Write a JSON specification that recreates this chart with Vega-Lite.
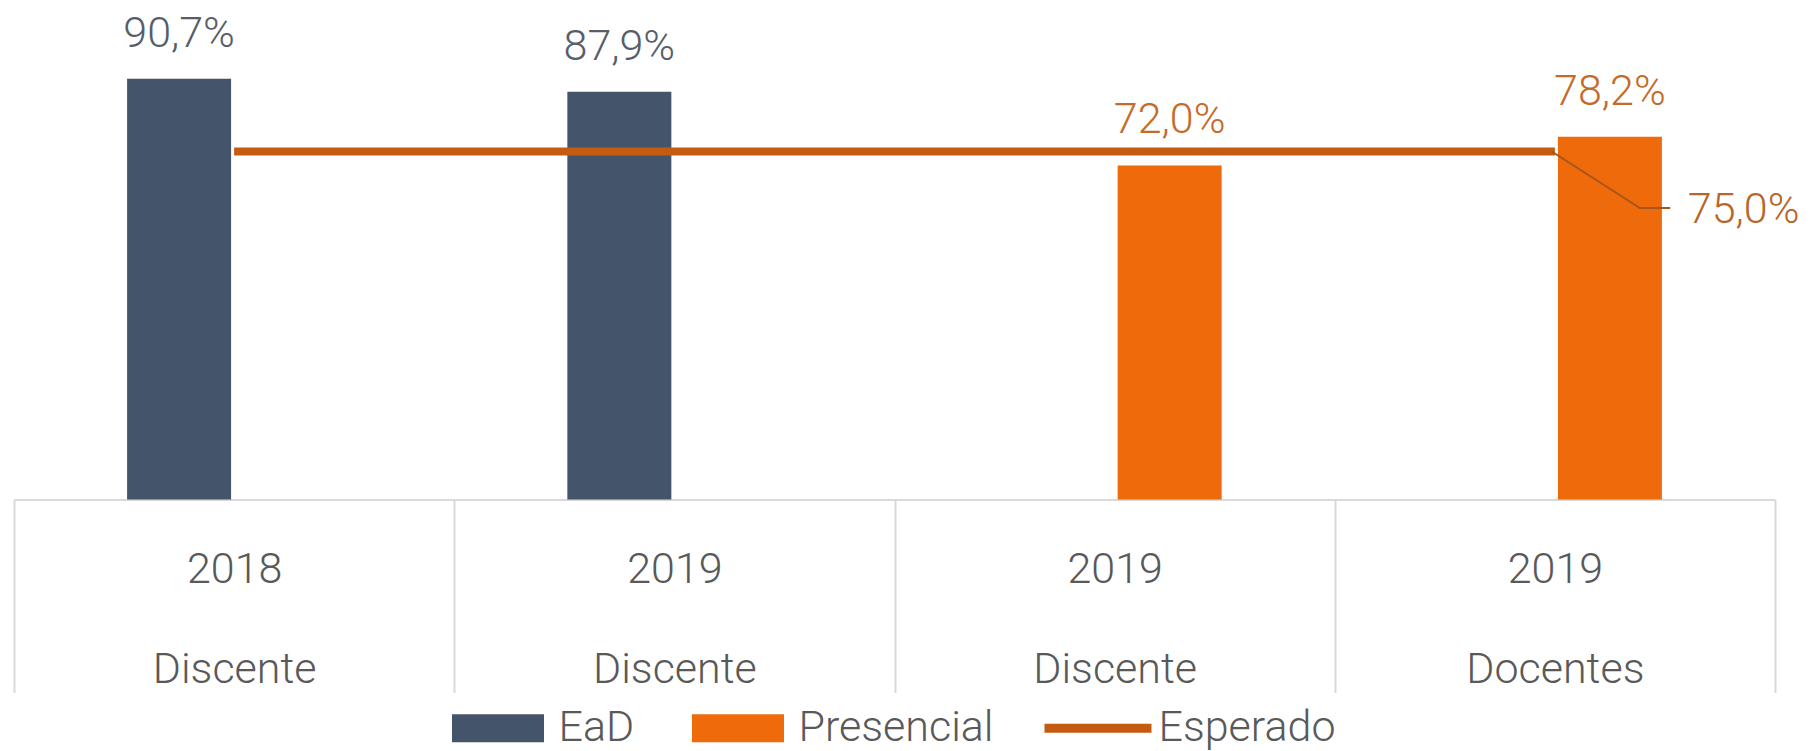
{
  "$schema": "https://vega.github.io/schema/vega-lite/v6.json",
  "autosize": {"type": "none"},
  "padding": {"left": 14, "top": 35.5, "right": 38, "bottom": 251.5},
  "width": 1761,
  "height": 464,
  "background": "white",
  "config": {
    "view": {"stroke": null},
    "font": "Roboto",
    "locale": {"number": {"decimal": ",", "thousands": ".", "grouping": [3], "currency": ["R$", ""]}}
  },
  "datasets": {
    "barras": [
      {"cat": "2018|Discente|1", "serie": "EaD", "valor": 0.907},
      {"cat": "2019|Discente|2", "serie": "EaD", "valor": 0.879},
      {"cat": "2019|Discente|3", "serie": "Presencial", "valor": 0.72},
      {"cat": "2019|Docentes|4", "serie": "Presencial", "valor": 0.782}
    ],
    "esperado": [
      {"cat": "2018|Discente|1", "valor": 0.75},
      {"cat": "2019|Discente|2", "valor": 0.75},
      {"cat": "2019|Discente|3", "valor": 0.75},
      {"cat": "2019|Docentes|4", "valor": 0.75}
    ],
    "guia": [
      {"px": 3.493, "py": 0.75, "ordem": 1},
      {"px": 3.693, "py": 0.628, "ordem": 2},
      {"px": 3.762, "py": 0.628, "ordem": 3}
    ],
    "rotulo": [
      {"px": 3.802, "py": 0.628, "valor": 0.75}
    ]
  },
  "resolve": {"scale": {"x": "independent"}},
  "layer": [
    {
      "layer": [
        {
          "data": {"name": "barras"},
          "mark": {"type": "bar", "width": 104},
          "encoding": {
            "x": {
              "field": "cat", "type": "nominal", "sort": null,
              "scale": {"domain": ["2018|Discente|1", "2019|Discente|2", "2019|Discente|3", "2019|Docentes|4"], "paddingInner": 0, "paddingOuter": 0},
              "axis": {
                "title": null,
                "labelExpr": "isString(datum.value) ? slice(split(datum.value, '|'), 0, 2) : ''",
                "labelAngle": 0,
                "labelFont": "Roboto",
                "labelFontWeight": 300,
                "labelFontSize": 43,
                "labelColor": "#595959",
                "labelLineHeight": 100,
                "labelBaseline": "top",
                "labelPadding": -144.5,
                "labelOverlap": false,
                "labelLimit": 500,
                "tickBand": "extent",
                "tickSize": 193,
                "tickColor": "#D9D9D9",
                "tickWidth": 2,
                "domainColor": "#D9D9D9",
                "domainWidth": 2,
                "grid": false
              }
            },
            "xOffset": {
              "field": "serie", "type": "nominal",
              "scale": {"domain": ["EaD", "Presencial"], "paddingInner": 0, "paddingOuter": 1}
            },
            "y": {
              "field": "valor", "type": "quantitative",
              "scale": {"domain": [0, 1], "nice": false, "zero": true},
              "axis": null
            },
            "color": {
              "field": "serie", "type": "nominal",
              "scale": {"domain": ["EaD", "Presencial", "Esperado"], "range": ["#44546A", "#EE6A0A", "#C55A11"]},
              "legend": {
                "title": null,
                "orient": "none",
                "direction": "horizontal",
                "legendX": 430.5,
                "legendY": 639,
                "padding": 0,
                "symbolSize": 11449,
                "symbolStrokeWidth": 0,
                "labelOffset": 7,
                "columnPadding": 50,
                "labelFont": "Roboto",
                "labelFontWeight": 300,
                "labelFontSize": 43,
                "labelColor": "#595959",
                "labelLimit": 500,
                "encode": {
                  "symbols": {
                    "update": {
                      "shape": {"signal": "datum.value === 'Esperado' ? 'M-1,-0.084H1V0.084H-1Z' : 'M-0.86,-0.262H0.86V0.262H-0.86Z'"},
                      "strokeWidth": {"value": 0}
                    }
                  }
                }
              }
            }
          }
        },
        {
          "data": {"name": "barras"},
          "mark": {"type": "text", "baseline": "alphabetic", "align": "center", "dy": -32, "font": "Roboto", "fontWeight": 300, "fontSize": 43},
          "encoding": {
            "x": {"field": "cat", "type": "nominal", "sort": null},
            "xOffset": {"field": "serie", "type": "nominal"},
            "y": {"field": "valor", "type": "quantitative"},
            "text": {"field": "valor", "type": "quantitative", "format": ".1%"},
            "color": {"condition": {"test": "datum.serie === 'EaD'", "value": "#575E6A"}, "value": "#C66A28"}
          }
        },
        {
          "data": {"name": "esperado"},
          "mark": {"type": "line", "color": "#C55A11", "strokeWidth": 8},
          "encoding": {
            "x": {"field": "cat", "type": "nominal", "sort": null},
            "y": {"field": "valor", "type": "quantitative"}
          }
        }
      ]
    },
    {
      "layer": [
        {
          "data": {"name": "guia"},
          "mark": {"type": "line", "color": "#A8551C", "strokeWidth": 2},
          "encoding": {
            "x": {"field": "px", "type": "quantitative", "scale": {"domain": [0, 4], "nice": false, "zero": false}, "axis": null},
            "y": {"field": "py", "type": "quantitative"},
            "order": {"field": "ordem"}
          }
        },
        {
          "data": {"name": "rotulo"},
          "mark": {"type": "text", "align": "left", "baseline": "middle", "dy": 2, "font": "Roboto", "fontWeight": 300, "fontSize": 43, "color": "#B8652A"},
          "encoding": {
            "x": {"field": "px", "type": "quantitative"},
            "y": {"field": "py", "type": "quantitative"},
            "text": {"field": "valor", "type": "quantitative", "format": ".1%"}
          }
        }
      ]
    }
  ]
}
